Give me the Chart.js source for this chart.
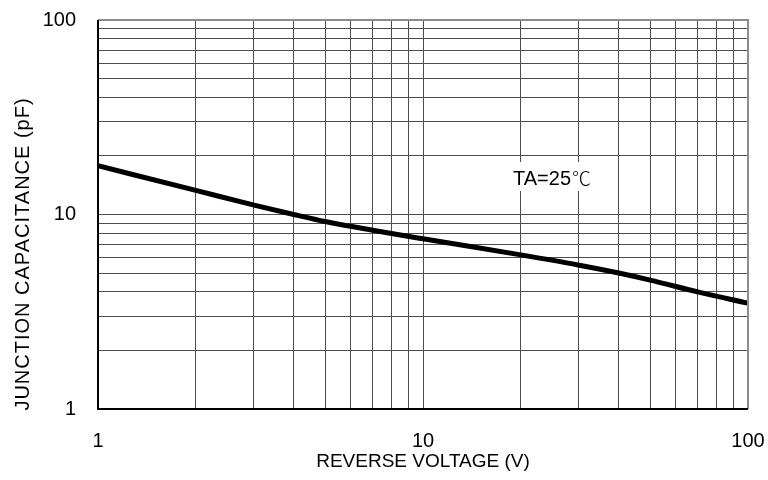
<!DOCTYPE html>
<html lang="en">

<head>
  <meta charset="UTF-8">
  <title>Junction Capacitance</title>
  <script src="https://cdn.jsdelivr.net/npm/chart.js"></script>
  <style>
    body { margin: 0; background: #ffffff; }
    #box { width: 768px; height: 480px; }
  </style>
</head>

<body>
  <div id="box">
    <canvas id="capChart" width="768" height="480"></canvas>
  </div>

  <script>
    // values
    const voltage = [1, 2, 3, 4, 5, 7, 10, 20, 30, 40, 50, 70, 100];
    const capacitance = [17.8, 13.3, 11.2, 10.0, 9.2, 8.3, 7.5, 6.2, 5.5, 5.0, 4.6, 4.0, 3.5];
    const majorTicks = [1, 10, 100];

    const xTitle = 'REVERSE VOLTAGE (V)';
    const yTitle = 'JUNCTION CAPACITANCE (pF)';
    const noteText = 'TA=25';
    const noteUnit = '℃';

    const points = voltage.map((v, i) => ({ x: v, y: capacitance[i] }));

    function showMajor(value) {
      return majorTicks.some(t => Math.abs(t - value) < 1e-9) ? String(value) : '';
    }

    // keep only 1..9 x 10^n ticks (chart.js also adds 15, 150...)
    function keepDecadeSteps(scale) {
      scale.ticks = scale.ticks.filter(t => {
        const d = Math.pow(10, Math.floor(Math.log10(t.value) + 1e-9));
        const s = t.value / d;
        return Math.abs(s - Math.round(s)) < 1e-6;
      });
    }

    // frame, rotated y title and the temperature note
    const extras = {
      id: 'extras',
      afterDraw(chart) {
        const ctx = chart.ctx;
        const area = chart.chartArea;

        ctx.save();
        ctx.strokeStyle = '#8c8c8c';
        ctx.lineWidth = 2;
        ctx.beginPath();
        ctx.moveTo(area.left, area.top);
        ctx.lineTo(area.right, area.top);
        ctx.lineTo(area.right, area.bottom);
        ctx.stroke();

        ctx.strokeStyle = '#000000';
        ctx.beginPath();
        ctx.moveTo(area.left, area.top);
        ctx.lineTo(area.left, area.bottom);
        ctx.lineTo(area.right, area.bottom);
        ctx.stroke();
        ctx.restore();

        ctx.save();
        ctx.translate(23, 254);
        ctx.rotate(-Math.PI / 2);
        ctx.font = '20px "Liberation Sans", Arial, sans-serif';
        ctx.letterSpacing = '1px';
        ctx.fillStyle = '#000000';
        ctx.textAlign = 'center';
        ctx.textBaseline = 'middle';
        ctx.fillText(yTitle, 0, 0);
        ctx.restore();

        // note sits on a white box that hides the grid behind it
        ctx.save();
        ctx.fillStyle = '#ffffff';
        ctx.fillRect(507, 162, 90, 29);
        ctx.fillStyle = '#000000';
        ctx.textBaseline = 'alphabetic';
        ctx.font = '20px "Liberation Sans", Arial, sans-serif';
        ctx.fillText(noteText, 513, 185);
        const w = ctx.measureText(noteText).width;
        ctx.font = '300 19px "Noto Sans CJK SC", sans-serif';
        ctx.fillText(noteUnit, 513 + w + 1, 186);
        ctx.restore();
      }
    };

    new Chart(document.getElementById('capChart'), {
      type: 'line',
      data: {
        datasets: [{
          data: points,
          borderColor: '#000000',
          borderWidth: 5,
          pointRadius: 0,
          fill: false,
          cubicInterpolationMode: 'monotone'
        }]
      },
      options: {
        responsive: false,
        animation: false,
        layout: { padding: { left: 0, top: 20, right: 20, bottom: 0 } },
        plugins: {
          legend: { display: false },
          tooltip: { enabled: false }
        },
        scales: {
          x: {
            type: 'logarithmic',
            min: 1,
            max: 100,
            afterBuildTicks: keepDecadeSteps,
            afterFit(scale) {
              scale.height = 71;
              scale.paddingLeft = 0;
              scale.paddingRight = 0;
            },
            grid: { color: '#4d4d4d', lineWidth: 1, drawTicks: false },
            border: { display: false },
            ticks: {
              autoSkip: false,
              maxRotation: 0,
              padding: 20,
              color: '#000000',
              font: { family: '"Liberation Sans", Arial, sans-serif', size: 20 },
              callback: showMajor
            },
            title: {
              display: true,
              text: xTitle,
              color: '#000000',
              font: { family: '"Liberation Sans", Arial, sans-serif', size: 19 },
              padding: { top: 0, bottom: 7 }
            }
          },
          y: {
            type: 'logarithmic',
            min: 1,
            max: 100,
            afterBuildTicks: keepDecadeSteps,
            afterFit(scale) {
              scale.width = 98;
              scale.paddingTop = 0;
              scale.paddingBottom = 0;
            },
            grid: { color: '#4d4d4d', lineWidth: 1, drawTicks: false },
            border: { display: false },
            ticks: {
              autoSkip: false,
              padding: 22,
              color: '#000000',
              font: { family: '"Liberation Sans", Arial, sans-serif', size: 20 },
              callback: showMajor
            }
          }
        }
      },
      plugins: [extras]
    });
  </script>
</body>

</html>
